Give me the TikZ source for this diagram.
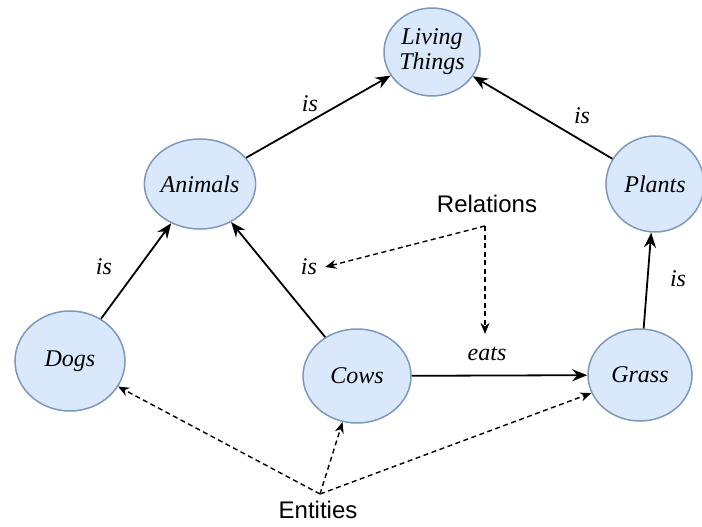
\documentclass[tikz,border=0pt]{standalone}
\usepackage{fontspec}
\setmainfont{Liberation Serif}
\setsansfont{Liberation Sans}
\usetikzlibrary{shapes.geometric,arrows.meta}
\definecolor{entfill}{HTML}{DAE8FC}
\definecolor{entdraw}{HTML}{7E98BC}
\begin{document}
\begin{tikzpicture}[x=1pt,y=-1pt,
  entity/.style={ellipse,draw=entdraw,fill=entfill,line width=1.5pt,inner sep=0pt,
    font=\fontsize{24}{27}\selectfont\itshape,align=center},
  rel/.style={font=\fontsize{24}{27}\selectfont\itshape,inner sep=1pt},
  meta/.style={font=\fontsize{24}{27}\selectfont\sffamily,inner sep=1pt},
  link/.style={line width=1.8pt,-{Stealth[length=15pt,width=12pt]}},
  hint/.style={line width=1.4pt,dash pattern=on 5pt off 3.5pt,-{Stealth[length=11pt,width=9pt]}}]
\useasboundingbox (0,0) rectangle (702,527);
\node[entity,minimum width=96pt,minimum height=88pt] (living) at (432,52) {Living\\[-2pt]Things};
\node[entity,minimum width=100pt,minimum height=90pt] (animals) at (200,184) {Animals};
\node[entity,minimum width=98pt,minimum height=96pt] (plants) at (655,184) {Plants};
\node[entity,minimum width=110pt,minimum height=100pt] (dogs) at (70,361) {Dogs};
\node[entity,minimum width=108pt,minimum height=94pt] (cows) at (357,376) {Cows};
\node[entity,minimum width=104pt,minimum height=92pt] (grass) at (640,375) {Grass};
\node[rel] (isA) at (310,104) {is};
\node[rel] (isP) at (582,116) {is};
\node[rel] (isD) at (104,267) {is};
\node[rel,inner sep=8pt] (isC) at (309,267) {is};
\node[rel] (isG) at (678,279) {is};
\node[rel] (eats) at (487,354) {eats};
\node[meta] (relations) at (487,204) {Relations};
\node[meta] (entities) at (318,510) {Entities};
\coordinate (relsrc) at (485,226);
\coordinate (entsrc) at (320,494);
\draw[link] (animals) -- (living);
\draw[link] (plants) -- (living);
\draw[link] (dogs) -- (animals);
\draw[link] (cows) -- (animals);
\draw[link] (grass) -- (plants);
\draw[link] (cows) -- (grass);
\draw[hint] (relsrc) -- (isC.east);
\draw[hint] (relsrc) -- ([yshift=12pt]relsrc |- eats.north);
\draw[hint] (entsrc) -- (dogs);
\draw[hint] (entsrc) -- (cows);
\draw[hint] (entsrc) -- (grass);
\end{tikzpicture}
\end{document}
